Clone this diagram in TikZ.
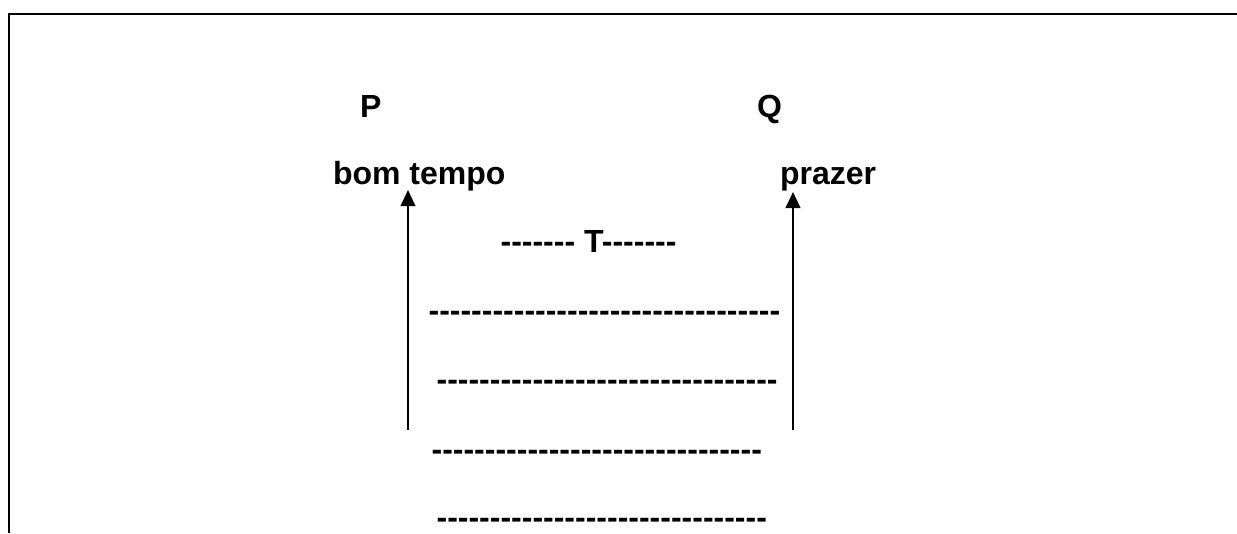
\documentclass[tikz,border=0pt]{standalone}
\usepackage{fontspec}
\setmainfont{Liberation Sans}[Ligatures=TeXOff]
\usetikzlibrary{arrows.meta}
\tikzset{
  lbl/.style={anchor=base west, inner sep=0pt, outer sep=0pt,
    font=\fontsize{24pt}{29pt}\selectfont\bfseries},
  uparrow/.style={line width=1.5pt, -{Triangle[length=12pt,width=11pt]}},
  frame/.style={line width=1.6pt}
}
\begin{document}
\begin{tikzpicture}[x=0.75pt,y=-0.75pt]
  \useasboundingbox (0,0) rectangle (1237,533);
  % open frame: left and top edges
  \coordinate (fbl) at (9,533);
  \coordinate (ftl) at (9,14);
  \coordinate (ftr) at (1237,14);
  \draw[frame] (fbl) -- (ftl) -- (ftr);

  % propositions and their meanings
  \node[lbl] (p) at (360,117) {P};
  \node[lbl] (q) at (757,117) {Q};
  \node[lbl] (pm) at (333,184) {bom tempo};
  \node[lbl] (qm) at (780,184) {prazer};

  % the theory and its lines
  \node[lbl] (t) at (500.6,252) {------- T-------};
  \node[lbl] (r1) at (428.6,321) {---------------------------------};
  \node[lbl] (r2) at (436.6,390) {--------------------------------};
  \node[lbl] (r3) at (431.6,460) {-------------------------------};
  \node[lbl] (r4) at (436.6,528) {-------------------------------};

  % arrows pointing up to the meanings
  \coordinate (la) at (408,430);
  \coordinate (lt) at (408,190);
  \coordinate (ra) at (793,430);
  \coordinate (rt) at (793,192);
  \draw[uparrow] (la) -- (lt);
  \draw[uparrow] (ra) -- (rt);
\end{tikzpicture}
\end{document}
